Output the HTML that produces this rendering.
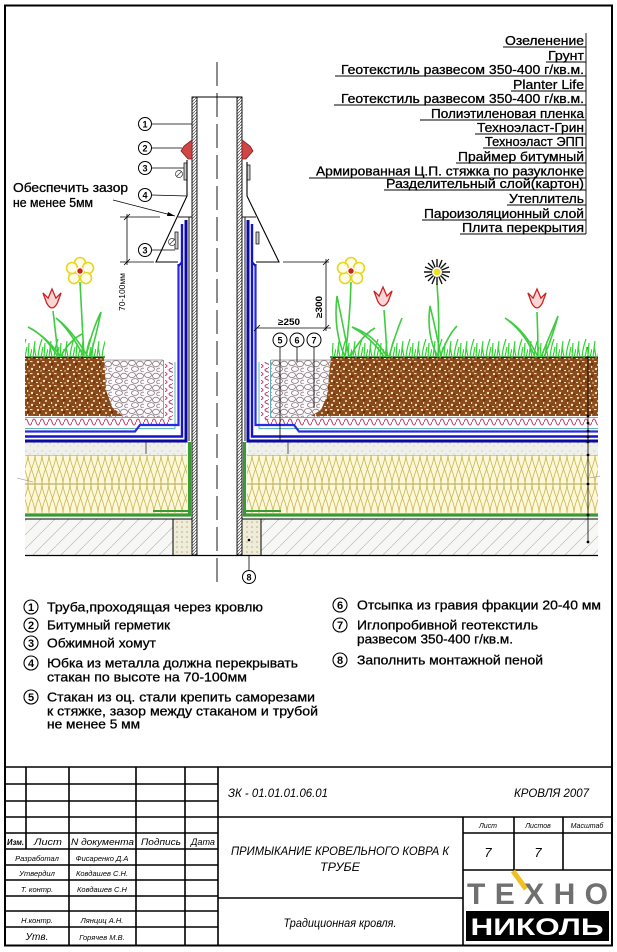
<!DOCTYPE html>
<html><head><meta charset="utf-8"><style>
html,body{margin:0;padding:0;background:#fff;width:617px;height:952px;overflow:hidden}
svg{display:block}
text{font-family:"Liberation Sans","DejaVu Sans",sans-serif;fill:#000}
.it{font-style:italic}
.b text{stroke:#000;stroke-width:0.3}
</style></head><body>
<svg width="617" height="952" viewBox="0 0 617 952" xmlns="http://www.w3.org/2000/svg">
<defs>
<pattern id="soil" width="12" height="12" patternUnits="userSpaceOnUse">
<rect width="12" height="12" fill="#8a4a1a"/>
<circle cx="2" cy="2" r="1.1" fill="#f2e2c0"/><rect x="6" y="1" width="2.5" height="1.1" fill="#f2e2c0"/>
<circle cx="10" cy="5" r="1" fill="#f2e2c0"/><rect x="3" y="6" width="1.2" height="2" fill="#f2e2c0"/>
<circle cx="8" cy="9" r="1.2" fill="#f2e2c0"/><rect x="0" y="10" width="2" height="1" fill="#efdcb4"/>
<circle cx="5" cy="11" r="0.7" fill="#f2e2c0"/><circle cx="4" cy="4" r="0.9" fill="#4a2005"/><circle cx="10" cy="10" r="0.8" fill="#4a2005"/>
</pattern>
<pattern id="gravel" width="16" height="12" patternUnits="userSpaceOnUse">
<rect width="16" height="12" fill="#fbf9fa"/>
<g fill="none" stroke="#857680" stroke-width="0.8">
<ellipse cx="4" cy="3" rx="3.5" ry="2.5"/><ellipse cx="12" cy="4" rx="3.5" ry="2.8"/><ellipse cx="7" cy="9" rx="3.5" ry="2.4"/><ellipse cx="15" cy="10" rx="2.3" ry="1.9"/></g>
</pattern>
<pattern id="ins" x="0" y="455" width="14" height="29" patternUnits="userSpaceOnUse">
<rect width="14" height="29" fill="#fcf8d8"/>
<path d="M0,0 C0,10 7,18 7,29 M14,0 C14,10 7,18 7,29 M7,0 C7,10 0,18 0,29 M7,0 C7,10 14,18 14,29" fill="none" stroke="#c9b658" stroke-width="0.8"/>
</pattern>
<pattern id="slab" width="14" height="14" patternUnits="userSpaceOnUse">
<rect width="14" height="14" fill="#f7f7f5"/>
<path d="M-2,16 L16,-2" stroke="#bcbcbc" stroke-width="0.7"/>
</pattern>
<pattern id="screed" width="8" height="8" patternUnits="userSpaceOnUse">
<rect width="8" height="8" fill="#f0f0eb"/><circle cx="2" cy="3" r="0.5" fill="#999"/><circle cx="6" cy="6" r="0.5" fill="#aaa"/>
</pattern>
<pattern id="foam" width="5" height="5" patternUnits="userSpaceOnUse">
<rect width="5" height="5" fill="#efecd9"/><circle cx="2" cy="2" r="0.8" fill="#b8ae84"/>
</pattern>
<pattern id="hatch" width="3" height="3" patternUnits="userSpaceOnUse">
<rect width="3" height="3" fill="#fff"/><path d="M0,3 L3,0" stroke="#444" stroke-width="0.7"/>
</pattern>
<pattern id="grass" x="0" y="335" width="16" height="22" patternUnits="userSpaceOnUse">
<path d="M1,22 L3,6 M4,22 L2,11 M6,22 Q7,12 10,4 M9,22 L11,12 M12,22 L13,8 M14,22 L16,14" fill="none" stroke="#2fd52f" stroke-width="1.2"/>
</pattern>
<pattern id="waveh" x="0" y="418" width="8" height="8" patternUnits="userSpaceOnUse">
<path d="M0,4 Q2,-2 4,4 Q6,10 8,4" fill="none" stroke="#c04070" stroke-width="1.1"/>
</pattern>
<pattern id="wavev" x="0" y="0" width="8" height="8" patternUnits="userSpaceOnUse">
<path d="M4,0 Q-2,2 4,4 Q10,6 4,8" fill="none" stroke="#c04070" stroke-width="1.1"/>
</pattern>
</defs>

<rect width="617" height="952" fill="#fff"/>

<!-- slab -->
<rect x="25" y="519" width="148" height="36" fill="url(#slab)"/>
<rect x="261" y="519" width="337" height="36" fill="url(#slab)"/>
<rect x="173" y="519" width="19" height="36" fill="url(#foam)"/>
<rect x="242" y="519" width="19" height="36" fill="url(#foam)"/>
<circle cx="249" cy="540" r="1.3" fill="#000"/>
<g stroke="#000" stroke-width="1">
<line x1="25" y1="519" x2="192" y2="519"/><line x1="242" y1="519" x2="598" y2="519"/>
<line x1="173" y1="519" x2="173" y2="555"/><line x1="261" y1="519" x2="261" y2="555"/>
</g>
<line x1="25" y1="555.5" x2="598" y2="555.5" stroke="#000" stroke-width="1.3"/>

<!-- insulation -->
<rect x="25" y="455" width="162" height="58" fill="url(#ins)"/>
<rect x="247" y="455" width="351" height="58" fill="url(#ins)"/>
<g stroke="#b0a050" stroke-width="0.9">
<line x1="25" y1="455" x2="187" y2="455"/><line x1="247" y1="455" x2="598" y2="455"/>
<line x1="25" y1="484" x2="187" y2="484"/><line x1="247" y1="484" x2="598" y2="484"/>
</g>
<g stroke="#3a9a34" fill="none">
<path d="M25,515 H189.5 V442" stroke-width="3.2"/>
<path d="M598,515 H244.5 V442" stroke-width="3.2"/>
<path d="M153,511 H188" stroke-width="2"/>
<path d="M246,511 H281" stroke-width="2"/>
</g>

<!-- screed -->
<rect x="25" y="442" width="161" height="13" fill="url(#screed)"/>
<rect x="248" y="442" width="350" height="13" fill="url(#screed)"/>
<line x1="146" y1="440" x2="146" y2="454" stroke="#333" stroke-width="0.8"/>
<line x1="288" y1="440" x2="288" y2="454" stroke="#333" stroke-width="0.8"/>

<!-- gravel -->
<rect x="104" y="360" width="59" height="58" fill="url(#gravel)"/>
<rect x="271" y="360" width="61" height="58" fill="url(#gravel)"/>
<!-- soil -->
<path d="M25,357 H104 L106,390 L112,407 L123,416 H25 Z" fill="url(#soil)"/>
<path d="M331,357 H598 V416 H311 L321,410 L327,396 Z" fill="url(#soil)"/>
<line x1="25" y1="357" x2="105" y2="357" stroke="#000" stroke-width="0.9"/>
<line x1="330" y1="357" x2="598" y2="357" stroke="#000" stroke-width="0.9"/>
<line x1="104" y1="360" x2="163" y2="360" stroke="#555" stroke-width="0.6"/>
<line x1="271" y1="360" x2="331" y2="360" stroke="#555" stroke-width="0.6"/>

<g fill="none" stroke="#5eb6b6" stroke-width="1">
<path d="M163.5,360 V417.5 H25"/>
<path d="M270.5,360 V417.5 H598"/>
<path d="M175,362 V428.5 H25"/>
<path d="M259,362 V428.5 H598"/>
</g>
<rect x="25" y="418" width="144" height="8" fill="url(#waveh)"/>
<rect x="265" y="418" width="333" height="8" fill="url(#waveh)"/>
<rect x="165" y="362" width="8" height="58" fill="url(#wavev)"/>
<rect x="261" y="362" width="8" height="58" fill="url(#wavev)"/>

<!-- blue membranes -->
<g fill="none" stroke-linejoin="miter">
<path d="M186,220 V441 H25" stroke="#0a0aa0" stroke-width="3"/>
<path d="M182,224 V436.5 H25" stroke="#1515c8" stroke-width="2.4"/>
<path d="M178.5,264 L178.5,425 H140 L135,431.5 H25" stroke="#2a2ae0" stroke-width="2.2"/>
<path d="M182,224 V262 L178.5,266" stroke="#1515c8" stroke-width="2"/>
<path d="M248,220 V441 H598" stroke="#0a0aa0" stroke-width="3"/>
<path d="M252,224 V436.5 H598" stroke="#1515c8" stroke-width="2.4"/>
<path d="M255.5,264 L255.5,425 H294 L299,431.5 H598" stroke="#2a2ae0" stroke-width="2.2"/>
<path d="M252,224 V262 L255.5,266" stroke="#1515c8" stroke-width="2"/>
</g>

<g stroke="#000" stroke-width="0.9" fill="none">
<path d="M178,217 H192"/><path d="M242,217 H256"/>
<line x1="189" y1="217" x2="189" y2="441"/>
<line x1="245" y1="217" x2="245" y2="441"/>
</g>

<!-- pipe -->
<rect x="192" y="97" width="5" height="458" fill="url(#hatch)" stroke="#000" stroke-width="0.9"/>
<rect x="237" y="97" width="5" height="458" fill="url(#hatch)" stroke="#000" stroke-width="0.9"/>
<line x1="192" y1="97" x2="242" y2="97" stroke="#000" stroke-width="1"/>
<line x1="217" y1="62" x2="217" y2="582" stroke="#000" stroke-width="0.9" stroke-dasharray="24 7"/>

<polygon points="192,140 184,146 181,151 188,159 192,159" fill="#d04545" stroke="#802020" stroke-width="0.8"/>
<polygon points="242,140 250,146 253,151 246,159 242,159" fill="#d04545" stroke="#802020" stroke-width="0.8"/>
<g fill="#ccc" stroke="#000" stroke-width="0.7">
<rect x="184" y="163" width="3" height="17"/><rect x="247" y="165" width="3" height="15"/>
<rect x="175" y="232" width="3" height="17"/><rect x="256" y="232" width="3" height="12"/>
</g>
<g fill="#fff" stroke="#333" stroke-width="0.7">
<circle cx="179" cy="174" r="3.5"/><path d="M176.5,176.5 L181.5,171.5"/>
<circle cx="172" cy="242" r="3.5"/><path d="M169.5,244.5 L174.5,239.5"/>
</g>
<g fill="none" stroke="#000" stroke-width="1.1">
<path d="M187,160 V196 L156,262 H178"/>
<path d="M247,162 V196 L279,262 H256"/>
</g>

<!-- dimensions -->
<g stroke="#000" stroke-width="0.8" fill="none">
<line x1="120" y1="217" x2="160" y2="217"/>
<line x1="120" y1="262" x2="154" y2="262"/>
<line x1="127" y1="214" x2="127" y2="265"/>
<line x1="124" y1="220" x2="130" y2="214"/><line x1="124" y1="265" x2="130" y2="259"/>
<line x1="283" y1="262" x2="329" y2="262"/>
<line x1="326" y1="259" x2="326" y2="331"/>
<line x1="323" y1="265" x2="329" y2="259"/><line x1="323" y1="331" x2="329" y2="325"/>
<line x1="257" y1="328" x2="331" y2="328"/>
<line x1="254" y1="331" x2="260" y2="325"/>
<line x1="113" y1="200" x2="175" y2="216"/>
</g>
<polygon points="175,216 168,212 167,216" fill="#000"/>
<text transform="translate(125,311) rotate(-90)" font-size="8" textLength="38" lengthAdjust="spacingAndGlyphs">70-100мм</text>
<text transform="translate(322,318) rotate(-90)" font-size="9" font-weight="bold" textLength="22" lengthAdjust="spacingAndGlyphs">≥300</text>
<text x="278" y="325" font-size="9" font-weight="bold" textLength="22" lengthAdjust="spacingAndGlyphs">≥250</text>

<g class="b">
<text x="13" y="192" font-size="13" textLength="115" lengthAdjust="spacingAndGlyphs">Обеспечить зазор</text>
<text x="13" y="207" font-size="13" textLength="80" lengthAdjust="spacingAndGlyphs">не менее 5мм</text>
</g>

<!-- callouts -->
<g stroke="#000" stroke-width="0.8" fill="none">
<line x1="152" y1="124" x2="192" y2="124"/>
<line x1="152" y1="148" x2="182" y2="148"/>
<line x1="152" y1="168" x2="184" y2="168"/>
<line x1="152" y1="195" x2="187" y2="196"/>
<line x1="152" y1="250" x2="175" y2="250"/>
<line x1="280" y1="347" x2="280" y2="440"/>
<line x1="297" y1="347" x2="297" y2="362"/>
<line x1="314" y1="347" x2="314" y2="408"/>
<line x1="249" y1="555" x2="249" y2="570"/>
</g>
<g fill="#fff" stroke="#000" stroke-width="1">
<circle cx="145" cy="124" r="6.5"/><circle cx="145" cy="148" r="6.5"/><circle cx="145" cy="168" r="6.5"/>
<circle cx="145" cy="195" r="6.5"/><circle cx="145" cy="250" r="6.5"/>
<circle cx="280" cy="340" r="7"/><circle cx="297" cy="340" r="7"/><circle cx="314" cy="340" r="7"/>
<circle cx="249" cy="577" r="6.5"/>
</g>
<g font-size="9" font-weight="bold" text-anchor="middle">
<text x="145" y="127.5">1</text><text x="145" y="151.5">2</text><text x="145" y="171.5">3</text>
<text x="145" y="198.5">4</text><text x="145" y="253.5">3</text>
<text x="280" y="343.5">5</text><text x="297" y="343.5">6</text><text x="314" y="343.5">7</text>
<text x="249" y="580.5">8</text>
</g>

<line x1="588" y1="347" x2="588" y2="542" stroke="#000" stroke-width="0.8"/>
<g fill="#000">
<circle cx="588" cy="357" r="1.4"/><circle cx="588" cy="416" r="1.4"/><circle cx="588" cy="423" r="1.4"/>
<circle cx="588" cy="431" r="1.4"/><circle cx="588" cy="437" r="1.4"/><circle cx="588" cy="442" r="1.4"/>
<circle cx="588" cy="455" r="1.4"/><circle cx="588" cy="484" r="1.4"/><circle cx="588" cy="515" r="1.4"/><circle cx="588" cy="542" r="1.4"/>
</g>
<line x1="590" y1="478" x2="600" y2="476" stroke="#888" stroke-width="0.6"/>
<line x1="17" y1="478" x2="33" y2="482" stroke="#888" stroke-width="0.6"/>

<!-- grass -->
<rect x="25" y="335" width="80" height="22" fill="url(#grass)"/>
<rect x="332" y="335" width="266" height="22" fill="url(#grass)"/>

<!-- flowers -->
<g fill="none" stroke="#40cc40" stroke-width="1.6">
<path d="M80,282 Q82,320 84,357"/>
<path d="M84,357 Q70,330 56,318 Q72,330 88,357"/>
<path d="M86,357 Q92,330 101,312 Q96,336 90,357"/>
<path d="M53,311 Q56,335 58,357"/>
<path d="M58,357 Q45,335 28,327 Q47,337 61,357"/>
<path d="M60,357 Q70,340 82,334"/>
<path d="M351,282 Q350,320 345,357"/>
<path d="M345,357 Q333,330 337,296 Q344,330 349,357"/>
<path d="M350,357 Q362,335 375,328"/>
<path d="M384,310 Q386,335 387,357"/>
<path d="M387,357 Q375,335 352,327 Q372,338 384,357"/>
<path d="M389,357 Q395,335 402,318"/>
<path d="M437,284 Q440,320 438,357"/>
<path d="M438,357 Q426,335 430,306 Q436,330 441,357"/>
<path d="M440,357 Q448,335 457,326"/>
<path d="M537,312 Q538,335 538,357"/>
<path d="M538,357 Q525,330 505,318 Q525,332 535,357"/>
<path d="M541,357 Q550,335 558,316 Q552,338 544,357"/>
</g>
<g fill="#fffde8" stroke="#e6d620" stroke-width="1.6">
<circle cx="80" cy="263" r="5.5"/><circle cx="88" cy="268" r="5.5"/><circle cx="86" cy="278" r="5.5"/><circle cx="74" cy="278" r="5.5"/><circle cx="72" cy="268" r="5.5"/>
<circle cx="351" cy="263" r="5.5"/><circle cx="359" cy="268" r="5.5"/><circle cx="357" cy="278" r="5.5"/><circle cx="345" cy="278" r="5.5"/><circle cx="343" cy="268" r="5.5"/>
</g>
<circle cx="80" cy="271" r="4" fill="#fffde8"/><circle cx="351" cy="271" r="4" fill="#fffde8"/>
<circle cx="80" cy="271" r="2.7" fill="#d02020"/>
<circle cx="351" cy="271" r="2.7" fill="#d02020"/>
<g fill="#f8d6d6" stroke="#d02020" stroke-width="1">
<path transform="translate(52,302) scale(1.3)" d="M-7,-7 L-4,1 Q0,8 4,1 L7,-7 L3,-3 L0,-10 L-3,-3 Z"/>
<path transform="translate(383,300) scale(1.3)" d="M-7,-7 L-4,1 Q0,8 4,1 L7,-7 L3,-3 L0,-10 L-3,-3 Z"/>
<path transform="translate(537,302) scale(1.3)" d="M-7,-7 L-4,1 Q0,8 4,1 L7,-7 L3,-3 L0,-10 L-3,-3 Z"/>
</g>
<g stroke="#111" stroke-width="1.4">
<path d="M437,259 V285 M424,272 H450 M428,263 L446,281 M446,263 L428,281 M432,260 L442,284 M442,260 L432,284 M425,267 L449,277 M449,267 L425,277"/>
</g>
<circle cx="437" cy="272" r="5" fill="#fff"/>
<circle cx="437" cy="272" r="3.5" fill="#f0e020"/>

<!-- right labels -->
<line x1="586" y1="33" x2="586" y2="234" stroke="#000" stroke-width="0.9"/>
<g stroke="#000" stroke-width="0.9">
<line x1="503" y1="47" x2="586" y2="47"/>
<line x1="546" y1="62" x2="586" y2="62"/>
<line x1="335" y1="76" x2="586" y2="76"/>
<line x1="511" y1="91" x2="586" y2="91"/>
<line x1="334" y1="105" x2="586" y2="105"/>
<line x1="420" y1="120" x2="586" y2="120"/>
<line x1="475" y1="134" x2="586" y2="134"/>
<line x1="483" y1="148" x2="586" y2="148"/>
<line x1="456" y1="163" x2="586" y2="163"/>
<line x1="309" y1="178" x2="586" y2="178"/>
<line x1="384" y1="190" x2="586" y2="190"/>
<line x1="507" y1="205" x2="586" y2="205"/>
<line x1="422" y1="220" x2="586" y2="220"/>
<line x1="460" y1="234" x2="586" y2="234"/>
</g>
<g class="b" font-size="13" text-anchor="end">
<text x="584" y="45" textLength="79" lengthAdjust="spacingAndGlyphs">Озеленение</text>
<text x="584" y="60" textLength="36" lengthAdjust="spacingAndGlyphs">Грунт</text>
<text x="584" y="74" textLength="243" lengthAdjust="spacingAndGlyphs">Геотекстиль развесом 350-400 г/кв.м.</text>
<text x="584" y="89" textLength="71" lengthAdjust="spacingAndGlyphs">Planter Life</text>
<text x="584" y="103" textLength="243" lengthAdjust="spacingAndGlyphs">Геотекстиль развесом 350-400 г/кв.м.</text>
<text x="584" y="118" textLength="153" lengthAdjust="spacingAndGlyphs">Полиэтиленовая пленка</text>
<text x="584" y="132" textLength="107" lengthAdjust="spacingAndGlyphs">Техноэласт-Грин</text>
<text x="584" y="146" textLength="99" lengthAdjust="spacingAndGlyphs">Техноэласт ЭПП</text>
<text x="584" y="161" textLength="126" lengthAdjust="spacingAndGlyphs">Праймер битумный</text>
<text x="584" y="175.5" textLength="268" lengthAdjust="spacingAndGlyphs">Армированная Ц.П. стяжка по разуклонке</text>
<text x="584" y="188" textLength="198" lengthAdjust="spacingAndGlyphs">Разделительный слой(картон)</text>
<text x="584" y="203" textLength="75" lengthAdjust="spacingAndGlyphs">Утеплитель</text>
<text x="584" y="218" textLength="160" lengthAdjust="spacingAndGlyphs">Пароизоляционный слой</text>
<text x="584" y="232" textLength="122" lengthAdjust="spacingAndGlyphs">Плита перекрытия</text>
</g>

<!-- legend -->
<g fill="#fff" stroke="#000" stroke-width="1.1">
<circle cx="31" cy="607" r="7"/><circle cx="31" cy="625" r="7"/><circle cx="31" cy="643" r="7"/>
<circle cx="31" cy="663" r="7"/><circle cx="31" cy="697" r="7"/>
<circle cx="340" cy="605" r="7"/><circle cx="340" cy="625" r="7"/><circle cx="340" cy="660" r="7"/>
</g>
<g font-size="11" font-weight="bold" text-anchor="middle">
<text x="31" y="611">1</text><text x="31" y="629">2</text><text x="31" y="647">3</text>
<text x="31" y="667">4</text><text x="31" y="701">5</text>
<text x="340" y="609">6</text><text x="340" y="629">7</text><text x="340" y="664">8</text>
</g>
<g class="b" font-size="13">
<text x="47" y="611.5" textLength="216" lengthAdjust="spacingAndGlyphs">Труба,проходящая через кровлю</text>
<text x="47" y="629.5" textLength="123" lengthAdjust="spacingAndGlyphs">Битумный герметик</text>
<text x="47" y="647.5" textLength="109" lengthAdjust="spacingAndGlyphs">Обжимной хомут</text>
<text x="47" y="667.5" textLength="251" lengthAdjust="spacingAndGlyphs">Юбка из металла должна перекрывать</text>
<text x="47" y="681.5" textLength="200" lengthAdjust="spacingAndGlyphs">стакан по высоте на 70-100мм</text>
<text x="47" y="701.5" textLength="268" lengthAdjust="spacingAndGlyphs">Стакан из оц. стали крепить саморезами</text>
<text x="47" y="715.5" textLength="271" lengthAdjust="spacingAndGlyphs">к стяжке, зазор  между стаканом и трубой</text>
<text x="47" y="728.5" textLength="93" lengthAdjust="spacingAndGlyphs">не менее 5 мм</text>
<text x="357" y="609.5" textLength="244" lengthAdjust="spacingAndGlyphs">Отсыпка из гравия фракции 20-40 мм</text>
<text x="357" y="629.5" textLength="181" lengthAdjust="spacingAndGlyphs">Иглопробивной геотекстиль</text>
<text x="357" y="643.5" textLength="156" lengthAdjust="spacingAndGlyphs">развесом 350-400 г/кв.м.</text>
<text x="357" y="664.5" textLength="186" lengthAdjust="spacingAndGlyphs">Заполнить монтажной пеной</text>
</g>

<!-- frame & title block -->
<rect x="5" y="5.5" width="607" height="940" fill="none" stroke="#000" stroke-width="2"/>
<g stroke="#000" stroke-width="1.6" fill="none">
<line x1="5" y1="767" x2="612" y2="767"/>
<line x1="5" y1="784" x2="218" y2="784"/>
<line x1="5" y1="801" x2="218" y2="801"/>
<line x1="5" y1="817" x2="612" y2="817"/>
<line x1="5" y1="833" x2="218" y2="833"/>
<line x1="5" y1="849" x2="218" y2="849"/>
<line x1="5" y1="865" x2="218" y2="865"/>
<line x1="5" y1="880" x2="218" y2="880"/>
<line x1="5" y1="896" x2="218" y2="896"/>
<line x1="5" y1="911" x2="218" y2="911"/>
<line x1="5" y1="927" x2="218" y2="927"/>
<line x1="26" y1="767" x2="26" y2="849"/>
<line x1="69" y1="767" x2="69" y2="945"/>
<line x1="136" y1="767" x2="136" y2="945"/>
<line x1="185" y1="767" x2="185" y2="945"/>
<line x1="218" y1="767" x2="218" y2="945"/>
<line x1="463" y1="817" x2="463" y2="945"/>
<line x1="218" y1="898" x2="463" y2="898"/>
<line x1="463" y1="833" x2="612" y2="833"/>
<line x1="463" y1="870" x2="612" y2="870"/>
<line x1="514" y1="817" x2="514" y2="870"/>
<line x1="563" y1="817" x2="563" y2="870"/>
</g>
<g class="it" font-style="italic">
<text x="228" y="797" font-size="11.5" textLength="100" lengthAdjust="spacingAndGlyphs">ЗК - 01.01.01.06.01</text>
<text x="514" y="797" font-size="11.5" textLength="75" lengthAdjust="spacingAndGlyphs">КРОВЛЯ 2007</text>
<text x="340" y="855" font-size="11.5" text-anchor="middle" textLength="218" lengthAdjust="spacingAndGlyphs">ПРИМЫКАНИЕ КРОВЕЛЬНОГО КОВРА К</text>
<text x="340" y="871" font-size="11.5" text-anchor="middle" textLength="40" lengthAdjust="spacingAndGlyphs">ТРУБЕ</text>
<text x="340" y="927" font-size="11.5" text-anchor="middle" textLength="113" lengthAdjust="spacingAndGlyphs">Традиционная кровля.</text>
<text x="488" y="828" font-size="7" text-anchor="middle">Лист</text>
<text x="538" y="828" font-size="7" text-anchor="middle">Листов</text>
<text x="587" y="828" font-size="7" text-anchor="middle">Масштаб</text>
<text x="488" y="857" font-size="13" text-anchor="middle">7</text>
<text x="538" y="857" font-size="13" text-anchor="middle">7</text>
<text x="7" y="845" font-size="8" font-weight="bold" textLength="17" lengthAdjust="spacingAndGlyphs">Изм.</text>
<text x="34" y="845" font-size="9" textLength="28" lengthAdjust="spacingAndGlyphs">Лист</text>
<text x="71" y="845" font-size="9" textLength="63" lengthAdjust="spacingAndGlyphs">N документа</text>
<text x="141" y="845" font-size="9" textLength="40" lengthAdjust="spacingAndGlyphs">Подпись</text>
<text x="191" y="845" font-size="9" textLength="24" lengthAdjust="spacingAndGlyphs">Дата</text>
<g font-size="7.5" text-anchor="middle">
<text x="37" y="861">Разработал</text><text x="102" y="861">Фисаренко Д.А</text>
<text x="37" y="876">Утвердил</text><text x="102" y="876">Ковдашев С.Н.</text>
<text x="37" y="892">Т. контр.</text><text x="102" y="892">Ковдашев С.Н</text>
<text x="37" y="923">Н.контр.</text><text x="102" y="923">Лянциц А.Н.</text>
<text x="102" y="940">Горячев М.В.</text>
</g>
<text x="37" y="940" font-size="10" text-anchor="middle">Утв.</text>
</g>
<!-- logo -->
<line x1="513" y1="871" x2="526" y2="889" stroke="#f0c020" stroke-width="5"/>
<text x="467" y="904" font-size="30" font-weight="bold" style="fill:#707070" textLength="141" lengthAdjust="spacing">ТЕХНО</text>
<rect x="466" y="911" width="143" height="30" fill="#000"/>
<text x="537" y="935" font-size="24" font-weight="bold" text-anchor="middle" style="fill:#fff" textLength="133" lengthAdjust="spacingAndGlyphs">НИКОЛЬ</text>
</svg>
</body></html>
